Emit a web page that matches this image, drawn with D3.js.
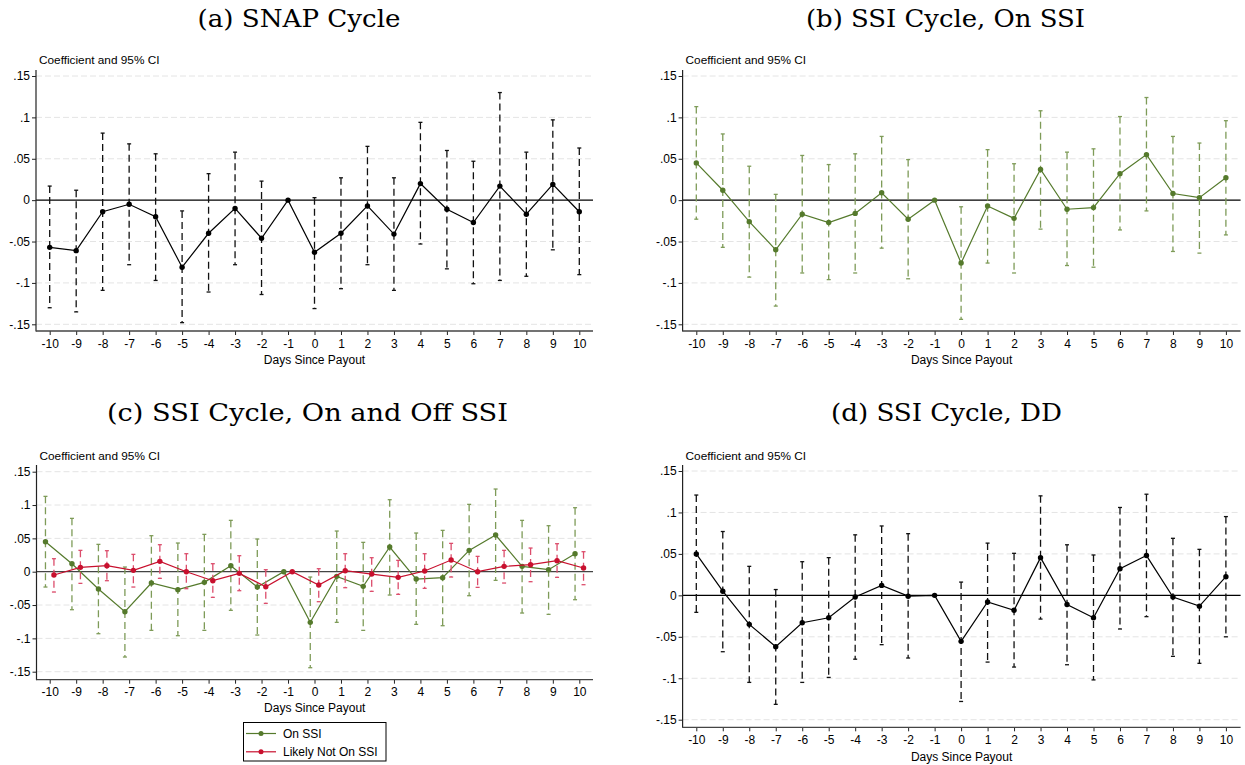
<!DOCTYPE html>
<html>
<head>
<meta charset="utf-8">
<script src="https://cdn.jsdelivr.net/npm/d3@7"></script>
<style>
  body { margin: 0; background: #fff; }
  svg { display: block; }
</style>
</head>
<body>
<svg id="fig" width="1245" height="765"></svg>
<script>
// Event-study coefficients (days relative to benefit payout), with 95% CI bounds.
const days = [-10, -9, -8, -7, -6, -5, -4, -3, -2, -1, 0, 1, 2, 3, 4, 5, 6, 7, 8, 9, 10];

const yTicks = [-0.15, -0.1, -0.05, 0, 0.05, 0.1, 0.15];
const yTickLabels = ["-.15", "-.1", "-.05", "0", ".05", ".1", ".15"];

// (a) SNAP cycle
const snapCoef = [-0.057, -0.061, -0.014, -0.005, -0.020, -0.081, -0.040, -0.010, -0.046, 0, -0.063, -0.040, -0.007, -0.041, 0.020, -0.011, -0.027, 0.017, -0.017, 0.019, -0.014];
const snapLo   = [-0.130, -0.135, -0.109, -0.078, -0.097, -0.148, -0.111, -0.078, -0.114, null, -0.131, -0.107, -0.078, -0.109, -0.053, -0.083, -0.101, -0.097, -0.092, -0.060, -0.090];
const snapHi   = [0.017, 0.012, 0.081, 0.068, 0.056, -0.013, 0.032, 0.058, 0.023, null, 0.003, 0.027, 0.065, 0.027, 0.094, 0.060, 0.047, 0.130, 0.058, 0.097, 0.063];

// (b)/(c) SSI cycle, recipients on SSI
const onSsiCoef = [0.045, 0.012, -0.026, -0.060, -0.017, -0.027, -0.016, 0.009, -0.023, 0, -0.076, -0.007, -0.022, 0.037, -0.011, -0.009, 0.032, 0.055, 0.008, 0.003, 0.027];
const onSsiLo   = [-0.023, -0.057, -0.093, -0.128, -0.088, -0.096, -0.088, -0.058, -0.095, null, -0.144, -0.076, -0.088, -0.035, -0.079, -0.081, -0.036, -0.013, -0.062, -0.064, -0.042];
const onSsiHi   = [0.113, 0.080, 0.041, 0.007, 0.054, 0.043, 0.056, 0.077, 0.049, null, -0.008, 0.061, 0.044, 0.108, 0.058, 0.062, 0.101, 0.124, 0.077, 0.069, 0.096];

// (c) SSI cycle, likely not on SSI
const notSsiCoef = [-0.005, 0.0065, 0.009, 0.002, 0.0155, 0.000, -0.0135, -0.0025, -0.0225, 0, -0.020, 0.0015, -0.0035, -0.0085, 0.001, 0.0175, 0.000, 0.008, 0.0105, 0.0165, 0.0055];
const notSsiLo   = [-0.0305, -0.0175, -0.0135, -0.023, -0.010, -0.0255, -0.0385, -0.0285, -0.0475, null, -0.045, -0.024, -0.0295, -0.034, -0.025, -0.008, -0.0235, -0.017, -0.015, -0.0085, -0.0195];
const notSsiHi   = [0.0195, 0.032, 0.0315, 0.026, 0.0405, 0.027, 0.012, 0.024, 0.003, null, 0.0045, 0.027, 0.021, 0.017, 0.027, 0.0425, 0.023, 0.032, 0.0355, 0.042, 0.030];

// (d) SSI cycle, difference-in-differences
const ddCoef = [0.050, 0.005, -0.035, -0.062, -0.033, -0.027, -0.002, 0.012, -0.001, 0, -0.0555, -0.008, -0.018, 0.0455, -0.011, -0.027, 0.032, 0.048, -0.002, -0.013, 0.0225];
const ddLo   = [-0.0205, -0.068, -0.105, -0.1315, -0.105, -0.099, -0.077, -0.0595, -0.0756, null, -0.128, -0.0805, -0.0865, -0.0286, -0.0837, -0.102, -0.0406, -0.0257, -0.0736, -0.082, -0.050];
const ddHi   = [0.121, 0.077, 0.035, 0.007, 0.0406, 0.0455, 0.073, 0.0837, 0.0744, null, 0.016, 0.063, 0.0507, 0.120, 0.061, 0.0487, 0.106, 0.122, 0.0688, 0.0555, 0.095];

const panelTitles = ["(a) SNAP Cycle", "(b) SSI Cycle, On SSI", "(c) SSI Cycle, On and Off SSI", "(d) SSI Cycle, DD"];
const yAxisTitle = "Coefficient and 95% CI";
const xAxisTitle = "Days Since Payout";
const legendLabels = ["On SSI", "Likely Not On SSI"];

const GREEN = "#557a2c", GREEN_CI = "#7e9b58";
const RED = "#c8102e", RED_CI = "#dc4d6c";
const BLACK = "#000", BLACK_CI = "#111";

const svg = d3.select("#fig");
const sans = "'Liberation Sans', Arial, sans-serif";
const serif = "'DejaVu Serif', 'Liberation Serif', serif";

function toSeries(coef, lo, hi) {
  return days.map((d, i) => ({ day: d, coef: coef[i], lo: lo[i], hi: hi[i] }));
}

function drawTitle(text, cx, baseline, width) {
  svg.append("text")
    .attr("x", cx).attr("y", baseline)
    .attr("text-anchor", "middle")
    .attr("font-family", serif).attr("font-size", 24.5)
    .attr("textLength", width).attr("lengthAdjust", "spacingAndGlyphs")
    .attr("fill", "#000")
    .text(text);
}

// One coefficient plot: frame, grid, axes, CI spikes, connected estimates.
function drawPanel(L, seriesList) {
  const g = svg.append("g");
  const x = d3.scaleLinear().domain([-10, 10]).range([L.x0, L.x1]);
  const y = d3.scaleLinear().domain([-0.15, 0.15]).range([L.yLo, L.yHi]);

  // horizontal grid
  g.append("g").selectAll("line")
    .data(yTicks.filter(t => t !== 0))
    .join("line")
    .attr("x1", L.left).attr("x2", L.right)
    .attr("y1", d => y(d)).attr("y2", d => y(d))
    .attr("stroke", "#e4e4e4").attr("stroke-width", 1)
    .attr("stroke-dasharray", "6,3");

  // zero reference line
  g.append("line")
    .attr("x1", L.left).attr("x2", L.right)
    .attr("y1", y(0)).attr("y2", y(0))
    .attr("stroke", L.zeroColor).attr("stroke-width", 1.3);

  // y axis
  const yAxis = d3.axisLeft(y)
    .tickValues(yTicks)
    .tickFormat(d => yTickLabels[yTicks.indexOf(d)])
    .tickSize(4).tickSizeOuter(0).tickPadding(2);
  const ya = g.append("g").attr("transform", `translate(${L.left},0)`).call(yAxis);
  ya.select(".domain").remove();
  ya.selectAll(".tick line").attr("stroke", "#222").attr("stroke-width", 1);
  ya.selectAll(".tick text").attr("font-family", sans).attr("font-size", 12).attr("fill", "#000");

  // x axis
  const xAxis = d3.axisBottom(x)
    .tickValues(days)
    .tickFormat(d => String(d))
    .tickSize(4).tickSizeOuter(0).tickPadding(4);
  const xa = g.append("g").attr("transform", `translate(0,${L.bottom})`).call(xAxis);
  xa.select(".domain").remove();
  xa.selectAll(".tick line").attr("stroke", "#222").attr("stroke-width", 1);
  xa.selectAll(".tick text").attr("font-family", sans).attr("font-size", 12).attr("fill", "#000");

  // axis lines
  g.append("line").attr("x1", L.left).attr("x2", L.left).attr("y1", L.top).attr("y2", L.bottom + 0.5)
    .attr("stroke", "#222").attr("stroke-width", 1.2);
  g.append("line").attr("x1", L.left).attr("x2", L.right).attr("y1", L.bottom).attr("y2", L.bottom)
    .attr("stroke", "#444").attr("stroke-width", 1.3);

  // axis titles
  g.append("text").attr("x", L.left + 3).attr("y", L.ylabY)
    .attr("font-family", sans).attr("font-size", 11.8).attr("fill", "#000")
    .text(yAxisTitle);
  g.append("text").attr("x", (L.left + L.right) / 2).attr("y", L.xlabY)
    .attr("text-anchor", "middle")
    .attr("font-family", sans).attr("font-size", 12).attr("fill", "#000")
    .text(xAxisTitle);

  seriesList.forEach(s => {
    const data = s.data;
    const px = d => x(d.day + s.shift);
    const ci = data.filter(d => d.lo !== null);
    const cg = g.append("g");
    cg.selectAll("line.spike").data(ci).join("line")
      .attr("class", "spike")
      .attr("x1", px).attr("x2", px)
      .attr("y1", d => y(d.hi)).attr("y2", d => y(d.lo))
      .attr("stroke", s.ciColor).attr("stroke-width", 1.3)
      .attr("stroke-dasharray", "7,4");
    ["hi", "lo"].forEach(k => {
      cg.selectAll("line.cap" + k).data(ci).join("line")
        .attr("class", "cap" + k)
        .attr("x1", d => px(d) - 2).attr("x2", d => px(d) + 2)
        .attr("y1", d => y(d[k])).attr("y2", d => y(d[k]))
        .attr("stroke", s.ciColor).attr("stroke-width", 1.3);
    });
    g.append("path").datum(data)
      .attr("fill", "none").attr("stroke", s.color).attr("stroke-width", 1.2)
      .attr("d", d3.line().x(px).y(d => y(d.coef)));
    g.append("g").selectAll("circle").data(data).join("circle")
      .attr("cx", px).attr("cy", d => y(d.coef)).attr("r", 2.7)
      .attr("fill", s.color);
  });
  return g;
}

const dx = 646.6;
const topRow = { top: 70, bottom: 331, yHi: 76, yLo: 324.3, ylabY: 64.3, xlabY: 364.3 };

drawPanel(Object.assign({ left: 36, right: 593, x0: 49.7, x1: 579.3, zeroColor: "#000" }, topRow),
  [{ data: toSeries(snapCoef, snapLo, snapHi), shift: 0, color: BLACK, ciColor: BLACK_CI }]);

drawPanel(Object.assign({ left: 36 + dx, right: 593 + dx + 1, x0: 49.7 + dx, x1: 579.3 + dx, zeroColor: "#000" }, topRow),
  [{ data: toSeries(onSsiCoef, onSsiLo, onSsiHi), shift: 0, color: GREEN, ciColor: GREEN_CI }]);

drawPanel({ left: 36.5, right: 593, x0: 49.7, x1: 579.3, top: 465, bottom: 679.7, yHi: 471.7, yLo: 671.7,
            ylabY: 459.5, xlabY: 711.5, zeroColor: "#444" },
  [{ data: toSeries(onSsiCoef, onSsiLo, onSsiHi), shift: -0.16, color: GREEN, ciColor: GREEN_CI },
   { data: toSeries(notSsiCoef, notSsiLo, notSsiHi), shift: 0.16, color: RED, ciColor: RED_CI }]);

drawPanel({ left: 36 + dx, right: 593 + dx + 1, x0: 49.7 + dx, x1: 579.3 + dx, top: 465, bottom: 727.3, yHi: 471, yLo: 719.7,
            ylabY: 460.3, xlabY: 761, zeroColor: "#000" },
  [{ data: toSeries(ddCoef, ddLo, ddHi), shift: 0, color: BLACK, ciColor: BLACK_CI }]);

// panel captions
drawTitle(panelTitles[0], 299, 26.5, 203);
drawTitle(panelTitles[1], 945.5, 26.5, 279);
drawTitle(panelTitles[2], 307.5, 421, 401);
drawTitle(panelTitles[3], 946.5, 421, 231);

// legend for panel (c)
const leg = svg.append("g");
leg.append("rect").attr("x", 243.5).attr("y", 722.5).attr("width", 142.5).attr("height", 38.5)
  .attr("fill", "#fff").attr("stroke", "#000").attr("stroke-width", 1);
[[GREEN, legendLabels[0], 733.5], [RED, legendLabels[1], 751.8]].forEach(([c, label, cy]) => {
  leg.append("line").attr("x1", 246).attr("x2", 276).attr("y1", cy).attr("y2", cy)
    .attr("stroke", c).attr("stroke-width", 1.2);
  leg.append("circle").attr("cx", 261).attr("cy", cy).attr("r", 2.5).attr("fill", c);
  leg.append("text").attr("x", 283).attr("y", cy).attr("dy", "0.36em")
    .attr("font-family", sans).attr("font-size", 12).attr("fill", "#000").text(label);
});
</script>
</body>
</html>
